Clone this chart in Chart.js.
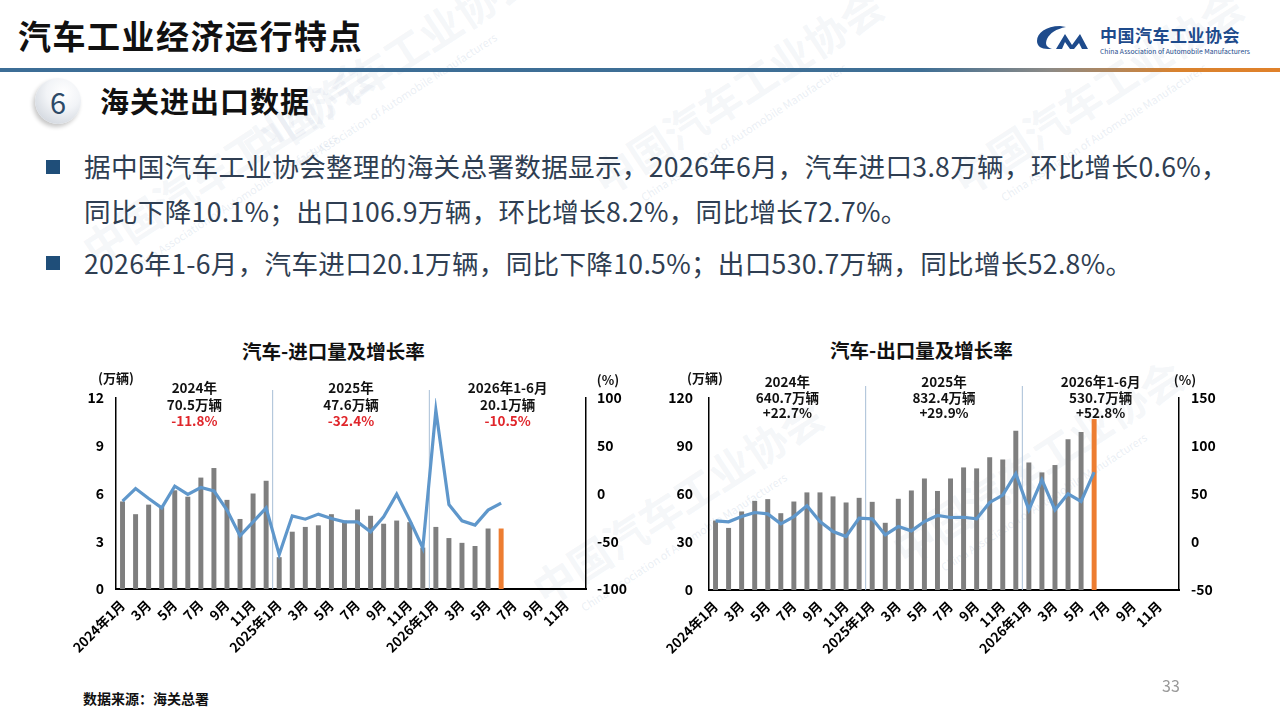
<!DOCTYPE html>
<html><head><meta charset="utf-8">
<script src="https://cdn.jsdelivr.net/npm/chart.js@4.4.1/dist/chart.umd.min.js"></script>
<style>
body{margin:0;width:1280px;height:719px;background:#fff;position:relative;overflow:hidden;font-family:"Noto Sans CJK SC","Noto Sans",sans-serif;}
.abs{position:absolute;white-space:nowrap;}
.wm{position:absolute;white-space:nowrap;color:rgba(150,172,200,0.11);font-weight:bold;transform:rotate(-33deg);transform-origin:left center;}
.wm small{display:block;font-size:11px;font-weight:normal;margin-left:30px;color:rgba(150,172,200,0.2);}
.bullet{position:absolute;left:46px;width:14px;height:14px;background:#1f4e79;}
.txt{position:absolute;left:84px;font-size:26.6px;color:#2f3e52;white-space:nowrap;letter-spacing:0.3px;}
</style></head><body>
<!-- watermarks -->
<div class="wm" style="left:250px;top:120px;font-size:42px;">中国汽车工业协会<small>China Association of Automobile Manufacturers</small></div>
<div class="wm" style="left:600px;top:150px;font-size:42px;">中国汽车工业协会<small>China Association of Automobile Manufacturers</small></div>
<div class="wm" style="left:960px;top:150px;font-size:42px;">中国汽车工业协会<small>China Association of Automobile Manufacturers</small></div>
<div class="wm" style="left:90px;top:220px;font-size:42px;">中国汽车工业协会<small>China Association of Automobile Manufacturers</small></div>
<div class="wm" style="left:540px;top:560px;font-size:42px;">中国汽车工业协会<small>China Association of Automobile Manufacturers</small></div>
<div class="wm" style="left:900px;top:520px;font-size:42px;">中国汽车工业协会<small>China Association of Automobile Manufacturers</small></div>

<div class="abs" style="left:18px;top:13px;font-size:33px;font-weight:bold;color:#111;letter-spacing:1.5px;line-height:44px;">汽车工业经济运行特点</div>
<svg class="abs" style="left:1036px;top:24px" width="64" height="26" viewBox="0 0 64 26">
<path d="M24 2 C10 2 1 9 1 17 C1 22 5 25 12 25 L16 25 C10 23 9 20 11 15 C14 9 20 5 30 3 Z" fill="#1e4b8c"/>
<path d="M20 25 L29 10 L36 21 L44 10 L52 25 L46 25 L43 19 L38 25 L34 25 L29 18 L26 25 Z" fill="#1e4b8c"/>
</svg>
<div class="abs" style="left:1100px;top:23px;font-size:17px;font-weight:bold;color:#1e4b8c;line-height:24px;letter-spacing:0.5px;">中国汽车工业协会</div>
<div class="abs" style="left:1100px;top:46px;font-size:6.8px;color:#1e4b8c;line-height:10px;">China Association of Automobile Manufacturers</div>
<div class="abs" style="left:0;top:68px;width:1280px;height:4px;background:linear-gradient(90deg,#3c6d96 0%,#3f6f95 72%,#8c8a86 82%,#d9822e 92%,#e0812a 100%);"></div>

<div class="abs" style="left:35px;top:78px;width:46px;height:46px;border-radius:50%;background:radial-gradient(circle at 62% 32%,#ffffff 0%,#f2f4f7 40%,#d4d9e0 80%,#c2c8d1 100%);box-shadow:-2px 3px 4px rgba(0,0,0,0.22);"></div>
<div class="abs" style="left:35px;top:78px;width:46px;height:46px;line-height:46px;text-align:center;font-size:29px;color:#2d4a68;">6</div>
<div class="abs" style="left:100px;top:80px;font-size:29px;font-weight:bold;color:#111;letter-spacing:1px;line-height:40px;">海关进出口数据</div>

<div class="bullet" style="top:160px;"></div>
<div class="txt" style="top:148px;line-height:36px;">据中国汽车工业协会整理的海关总署数据显示，2026年6月，汽车进口3.8万辆，环比增长0.6%，</div>
<div class="txt" style="top:193px;line-height:36px;">同比下降10.1%；出口106.9万辆，环比增长8.2%，同比增长72.7%。</div>
<div class="bullet" style="top:256px;"></div>
<div class="txt" style="top:245px;line-height:36px;">2026年1-6月，汽车进口20.1万辆，同比下降10.5%；出口530.7万辆，同比增长52.8%。</div>

<div class="abs" style="left:242px;top:337px;font-size:19.5px;font-weight:bold;color:#111;line-height:28px;">汽车-进口量及增长率</div>
<div class="abs" style="left:830px;top:336px;font-size:19.5px;font-weight:bold;color:#111;line-height:28px;">汽车-出口量及增长率</div>

<canvas id="c1" class="abs" style="left:40px;top:360px" width="600" height="320"></canvas>
<canvas id="c2" class="abs" style="left:630px;top:360px" width="620" height="320"></canvas>

<div class="abs" style="left:83px;top:688px;font-size:14px;font-weight:bold;color:#111;line-height:20px;">数据来源：海关总署</div>
<div class="abs" style="left:1162px;top:674px;font-size:16px;color:#9a9a9a;line-height:22px;">33</div>

<script>
const categories = [
 "2024年1月","2月","3月","4月","5月","6月","7月","8月","9月","10月","11月","12月",
 "2025年1月","2月","3月","4月","5月","6月","7月","8月","9月","10月","11月","12月",
 "2026年1月","2月","3月","4月","5月","6月","7月","8月","9月","10月","11月","12月"];
const yearStarts = [0, 12, 24];
const importVolume = [5.5,4.7,5.3,5.2,6.2,5.8,7.0,7.6,5.6,4.4,6.0,6.8,
                      2.0,3.6,3.9,4.0,4.7,4.3,5.0,4.6,4.1,4.3,4.2,2.6,
                      3.9,3.2,2.9,2.7,3.8,3.8];
const importGrowth = [-8.0,5.2,-5.2,-15.0,7.7,-1.0,6.3,2.8,-17.4,-44.3,-29.7,-15.0,
                      -63.9,-23.4,-26.9,-21.6,-26.2,-29.7,-29.7,-40.1,-24.4,-0.7,-27.9,-57.0,
                      87.2,-11.5,-28.6,-33.1,-17.4,-10.1];
const exportVolume = [43.4,38.8,49.1,55.7,56.8,48.0,55.3,61.0,61.0,58.5,54.7,57.6,
                      55.1,42.0,57.0,62.2,69.7,61.9,69.7,76.6,76.0,82.9,81.6,99.6,
                      79.7,73.5,78.1,94.2,98.8,106.9];
const exportGrowth = [22.0,21.0,26.5,30.7,29.3,18.9,26.5,37.7,21.3,10.9,5.7,24.8,
                      24.1,7.4,16.1,11.6,21.3,27.6,25.5,25.8,24.1,41.2,48.8,71.1,
                      33.5,64.8,33.5,50.2,42.2,72.7];
const importYearLabels = ["2024年","2025年","2026年1-6月"];
const importYearTotals = ["70.5万辆","47.6万辆","20.1万辆"];
const importYearGrowth = ["-11.8%","-32.4%","-10.5%"];
const exportYearLabels = ["2024年","2025年","2026年1-6月"];
const exportYearTotals = ["640.7万辆","832.4万辆","530.7万辆"];
const exportYearGrowth = ["+22.7%","+29.9%","+52.8%"];
const importLeftTicks = {min:0, max:12, step:3};
const importRightTicks = {min:-100, max:100, step:50};
const exportLeftTicks = {min:0, max:120, step:30};
const exportRightTicks = {min:-50, max:150, step:50};
const currentIndex = 29;

const FONT = '"Noto Sans CJK SC","Noto Sans",sans-serif';

const yearPlugin = {
  id: 'yearNotes',
  beforeDatasetsDraw(chart, args, o) {
    const ctx = chart.ctx, x = chart.scales.x, a = chart.chartArea;
    ctx.save();
    ctx.strokeStyle = '#a8bed6'; ctx.lineWidth = 1;
    yearStarts.slice(1).forEach(i => {
      const px = (x.getPixelForValue(i - 1) + x.getPixelForValue(i)) / 2;
      ctx.beginPath(); ctx.moveTo(px, a.top + o.divTop); ctx.lineTo(px, a.bottom); ctx.stroke();
    });
    ctx.restore();
  },
  afterDraw(chart, args, o) {
    const ctx = chart.ctx, x = chart.scales.x, a = chart.chartArea;
    ctx.save();
    ctx.textAlign = 'center'; ctx.textBaseline = 'middle';
    ctx.font = 'bold 13.5px ' + FONT;
    yearStarts.forEach((s, k) => {
      const e = s + 11;
      const cx = (x.getPixelForValue(s) + x.getPixelForValue(e)) / 2;
      ctx.fillStyle = '#111';
      ctx.fillText(o.labels[k], cx, a.top + o.y0);
      ctx.fillText(o.totals[k], cx, a.top + o.y0 + o.dy);
      ctx.fillStyle = o.growthColor;
      ctx.fillText(o.growth[k], cx, a.top + o.y0 + 2 * o.dy);
    });
    ctx.font = 'bold 13px ' + FONT;
    ctx.fillStyle = '#111';
    ctx.fillText('(万辆)', a.left + o.unitL, a.top - 20);
    ctx.fillText('(%)', a.right + o.unitR, a.top - 18);
    ctx.restore();
  }
};

function makeChart(id, vol, gr, lt, rt, wL, wR, hX, notes) {
  const barColors = vol.map((v, i) => i === currentIndex ? '#ed7d31' : '#7f7f7f');
  return new Chart(document.getElementById(id), {
    data: {
      labels: categories,
      datasets: [
        {type:'line', data: gr, yAxisID:'y1', borderColor:'#5f97cb', borderWidth:3.2, pointRadius:0, tension:0, order:0},
        {type:'bar', data: vol, yAxisID:'y', backgroundColor: barColors, categoryPercentage:1, barPercentage:0.38, order:1}
      ]
    },
    options: {
      responsive:false, animation:false,
      layout:{padding:{top:38, left:0, right:0, bottom:0}},
      plugins:{legend:{display:false}, tooltip:{enabled:false}, yearNotes: notes},
      scales:{
        x:{
          grid:{display:false, drawTicks:false},
          border:{display:true, color:'#000', width:2},
          afterFit(s){ s.height = hX; },
          ticks:{autoSkip:false, maxRotation:45, minRotation:45, padding:8, color:'#000',
            font:{family:FONT, size:13.5, weight:'bold'},
            callback:(v, i) => i % 2 === 0 ? categories[i] : ''}
        },
        y:{
          position:'left', min:lt.min, max:lt.max,
          grid:{display:false, drawTicks:false},
          border:{display:true, color:'#000', width:1.5},
          afterFit(s){ s.width = wL; },
          ticks:{stepSize:lt.step, padding:notes.padL, color:'#000', font:{family:FONT, size:14, weight:'bold'}}
        },
        y1:{
          position:'right', min:rt.min, max:rt.max,
          grid:{display:false, drawTicks:false},
          border:{display:true, color:'#000', width:1.5},
          afterFit(s){ s.width = wR; },
          ticks:{stepSize:rt.step, padding:notes.padR, color:'#000', font:{family:FONT, size:14, weight:'bold'}}
        }
      }
    },
    plugins:[yearPlugin]
  });
}

makeChart('c1', importVolume, importGrowth, importLeftTicks, importRightTicks, 76, 54, 91,
  {labels:importYearLabels, totals:importYearTotals, growth:importYearGrowth, growthColor:'#e0262b',
   y0:-10, dy:16.5, divTop:-8, unitL:0, unitR:22, padL:12, padR:11});
makeChart('c2', exportVolume, exportGrowth, exportLeftTicks, exportRightTicks, 79, 71, 90,
  {labels:exportYearLabels, totals:exportYearTotals, growth:exportYearGrowth, growthColor:'#111',
   y0:-16, dy:15.5, divTop:-12, unitL:-4, unitR:6, padL:16, padR:12});
</script>
</body></html>
